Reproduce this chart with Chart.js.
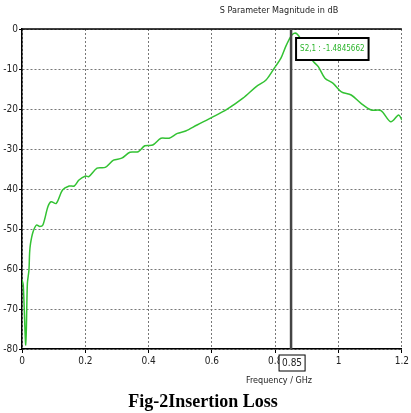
<!DOCTYPE html>
<html>
<head>
<meta charset="utf-8">
<script src="https://cdn.jsdelivr.net/npm/chart.js@4.4.1/dist/chart.umd.min.js"></script>
<style>
body { margin: 0; background: #fff; }
#wrap { position: relative; width: 411px; height: 413px; }
#box { position: absolute; left: 0; top: 0; width: 411px; height: 385px; }
.txt { position: absolute; white-space: nowrap; transform: translateX(-50%); }
#title { left: 279px; top: 5px; font: 9px "Liberation Sans Narrow", "DejaVu Sans Condensed", sans-serif; color: #222; }
#xtitle { left: 279px; top: 375px; font: 9px "Liberation Sans Narrow", "DejaVu Sans Condensed", sans-serif; color: #222; }
#caption { left: 203px; top: 391px; font: bold 18px "Liberation Serif", serif; color: #000; }
</style>
</head>
<body>
<div id="wrap">
  <div id="box"><canvas id="myChart"></canvas></div>
  <div class="txt" id="title">S Parameter Magnitude in dB</div>
  <div class="txt" id="xtitle">Frequency / GHz</div>
  <div class="txt" id="caption">Fig-2Insertion Loss</div>
</div>
<script>
// frequency in GHz
var freq = [0, 0.004, 0.012, 0.017, 0.022, 0.024, 0.027, 0.035, 0.046, 0.056, 0.066, 0.082, 0.092, 0.108,
    0.128, 0.149, 0.165, 0.18, 0.201, 0.211, 0.237, 0.263, 0.289, 0.315, 0.341, 0.367, 0.388, 0.413,
    0.439, 0.465, 0.491, 0.517, 0.553, 0.6, 0.647, 0.698, 0.74, 0.771, 0.797, 0.818, 0.833, 0.849,
    0.859, 0.869, 0.888, 0.905, 0.921, 0.936, 0.957, 0.983, 1.009, 1.04, 1.071, 1.103, 1.134, 1.165,
    1.19, 1.2];
// S2,1 in dB
var s21 = [-62.75, -64, -79, -63.6, -60.25, -56, -53.6, -50.7, -49, -49.4, -49, -44.4, -43.2, -43.6,
    -40.25, -39.25, -39.25, -37.75, -36.75, -36.9, -34.8, -34.6, -32.8, -32.3, -30.8, -30.7, -29.2, -29,
    -27.3, -27.3, -26.1, -25.5, -24, -22.1, -20.1, -17.3, -14.4, -12.75, -9.8, -7.3, -4.4, -1.9,
    -1.1, -1.25, -3.5, -6.5, -8.2, -9.4, -12.3, -13.6, -15.7, -16.5, -18.6, -20.25, -20.4, -23.2,
    -21.5, -22.75];
var markerFreq = 0.85;
var markerText = 'S2,1 : -1.4845662';

var points = [];
for (var i = 0; i < freq.length; i++) points.push({x: freq[i], y: s21[i]});

var smallFont = '"Liberation Sans Narrow", "DejaVu Sans Condensed", sans-serif';

var marker = {
    id: 'marker',
    afterDraw: function(chart) {
        var c = chart.ctx, a = chart.chartArea;
        var px = chart.scales.x.getPixelForValue(markerFreq);
        c.save();
        // top border
        c.strokeStyle = '#000'; c.lineWidth = 1.5;
        c.beginPath(); c.moveTo(a.left, a.top); c.lineTo(a.right, a.top); c.stroke();
        // cursor line
        c.strokeStyle = '#444'; c.lineWidth = 2.5;
        c.beginPath(); c.moveTo(px, a.top); c.lineTo(px, a.bottom); c.stroke();
        // value box
        c.font = '8px ' + smallFont;
        var w = c.measureText(markerText).width + 8;
        c.fillStyle = '#fff'; c.fillRect(px + 5, a.top + 9, w, 22);
        c.strokeStyle = '#000'; c.lineWidth = 2;
        c.strokeRect(px + 5, a.top + 9, w, 22);
        c.fillStyle = '#2bb52b'; c.textBaseline = 'middle';
        c.fillText(markerText, px + 9, a.top + 20);
        // frequency box on x axis
        c.font = '10px ' + smallFont;
        var t = markerFreq.toString();
        var tw = c.measureText(t).width + 6;
        c.fillStyle = '#fff'; c.fillRect(px - 12, a.bottom + 6, tw, 16);
        c.strokeStyle = '#000'; c.lineWidth = 1;
        c.strokeRect(px - 12, a.bottom + 6, tw, 16);
        c.fillStyle = '#222';
        c.fillText(t, px - 9, a.bottom + 14);
        c.restore();
    }
};

var ctx = document.getElementById('myChart').getContext('2d');
var myChart = new Chart(ctx, {
    type: 'line',
    data: {
        datasets: [{
            data: points,
            borderColor: '#33c233',
            borderWidth: 1.5,
            pointRadius: 0,
            tension: 0.3,
            fill: false
        }]
    },
    options: {
        responsive: true,
        maintainAspectRatio: false,
        animation: false,
        layout: { padding: { top: 29, right: 3, left: 0, bottom: 0 } },
        plugins: { legend: { display: false }, tooltip: { enabled: false } },
        scales: {
            x: {
                type: 'linear', min: 0, max: 1.2,
                ticks: { stepSize: 0.2, color: '#222', padding: 2, maxRotation: 0,
                    font: { size: 10, family: smallFont },
                    callback: function(v) { return String(Number(v.toFixed(1))); } },
                grid: { color: '#777', tickLength: 4, tickColor: '#000', tickBorderDash: [] },
                border: { color: '#000', width: 1.5, dash: [2, 2] },
                afterFit: function(s) { s.height = 36; }
            },
            y: {
                min: -80, max: 0,
                ticks: { stepSize: 10, color: '#222', padding: 1,
                    font: { size: 10, family: smallFont } },
                grid: { color: '#777', tickLength: 3, tickColor: '#000', tickBorderDash: [] },
                border: { color: '#000', width: 1.5, dash: [2, 2] },
                afterFit: function(s) { s.width = 22; }
            }
        }
    },
    plugins: [marker]
});
</script>
</body>
</html>
